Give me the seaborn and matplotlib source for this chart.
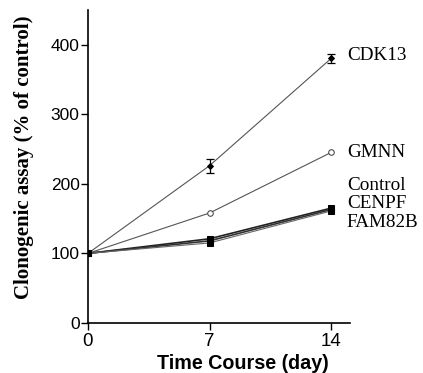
import matplotlib
matplotlib.use("Agg")
import matplotlib.pyplot as plt
import seaborn as sns
import pandas as pd

days = [0, 7, 14]
series_names = ["CDK13", "GMNN", "Control", "CENPF", "FAM82B"]
cdk13 = [100, 226, 380]
gmnn = [100, 158, 245]
control = [100, 121, 165]
cenpf = [100, 118, 163]
fam82b = [100, 115, 161]
cdk13_err = [0, 10, 7]
label_names = ["CDK13", "GMNN", "Control", "CENPF", "FAM82B"]
label_y = [384, 245, 198, 171, 145]
yticks = [0, 100, 200, 300, 400]
xticks = [0, 7, 14]

values = [cdk13, gmnn, control, cenpf, fam82b]
rows = []
for name, vals in zip(series_names, values):
    for d, v in zip(days, vals):
        rows.append({"day": d, "value": v, "series": name})
df = pd.DataFrame(rows)

sns.set_style("ticks")
fig = plt.figure(figsize=(4.23, 3.73), dpi=100)
ax = fig.add_axes([0.208, 0.134, 0.62, 0.84])

styles = {
    "CDK13": dict(marker="D", ms=3, mfc="black", mec="black", lw=0.8, color="#555555"),
    "GMNN": dict(marker="o", ms=4, mfc="white", mec="#444444", lw=0.8, color="#555555"),
    "Control": dict(marker="s", ms=5, mfc="black", mec="black", lw=1.2, color="#222222"),
    "CENPF": dict(marker="s", ms=5, mfc="black", mec="black", lw=1.2, color="#333333"),
    "FAM82B": dict(marker="s", ms=5, mfc="black", mec="black", lw=0.8, color="#666666"),
}
for name in series_names:
    st = styles[name]
    sub = df[df.series == name]
    sns.lineplot(data=sub, x="day", y="value", ax=ax, color=st["color"], lw=st["lw"],
                 marker=st["marker"], markersize=st["ms"], markerfacecolor=st["mfc"],
                 markeredgecolor=st["mec"], legend=False)

ax.errorbar(days[1:], cdk13[1:], yerr=cdk13_err[1:], fmt="none", ecolor="black",
            elinewidth=0.9, capsize=3, capthick=0.9)

for t, y in zip(label_names, label_y):
    ax.text(14.9, y, t, fontsize=13.8, family="Liberation Serif", color="black",
            va="center", ha="left", clip_on=False)

ax.set_xlim(0, 15.1)
ax.set_ylim(0, 450)
ax.set_xticks(xticks)
ax.set_yticks(yticks)
ax.tick_params(width=1, length=5, color="black", labelcolor="black")
ax.tick_params(axis="x", labelsize=13.5, pad=2)
ax.tick_params(axis="y", labelsize=12.5, pad=1)
for lab in ax.get_xticklabels() + ax.get_yticklabels():
    lab.set_family("Liberation Sans")
for s in ["top", "right"]:
    ax.spines[s].set_visible(False)
for s in ["left", "bottom"]:
    ax.spines[s].set_linewidth(1.2)
    ax.spines[s].set_color("black")
ax.set_xlabel("Time Course (day)", fontsize=14.2, fontweight="bold",
              family="Liberation Sans", color="black", va="center")
ax.xaxis.set_label_coords(0.59, -0.128)
ax.set_ylabel("Clonogenic assay (% of control)", fontsize=15, fontweight="bold",
              family="Liberation Serif", color="black", va="center")
ax.yaxis.set_label_coords(-0.244, 0.53)
fig.savefig("out.png", dpi=100)
